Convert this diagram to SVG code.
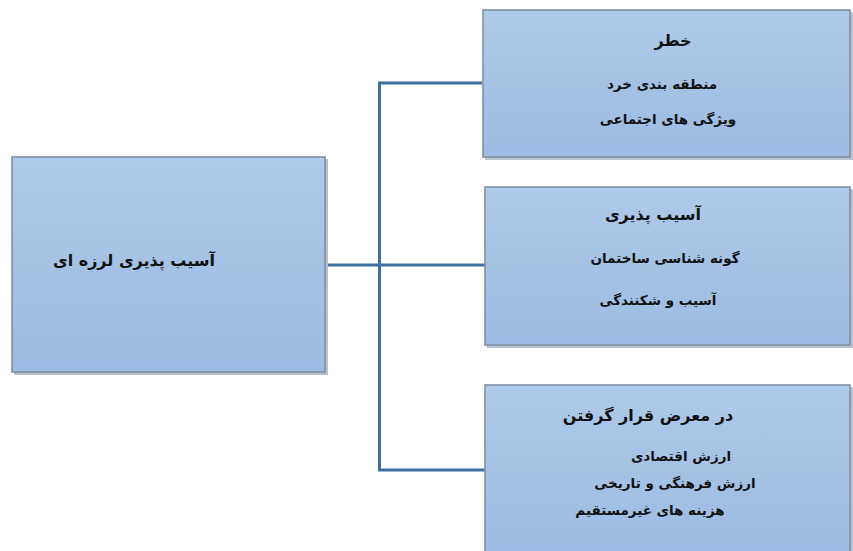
<svg xmlns="http://www.w3.org/2000/svg" width="853" height="551" viewBox="0 0 853 551">
<defs>
<linearGradient id="g" x1="0" y1="0" x2="0" y2="1">
<stop offset="0" stop-color="#afcaea"/>
<stop offset="0.5" stop-color="#a5c2e5"/>
<stop offset="1" stop-color="#9dbce3"/>
</linearGradient>
</defs>
<style>
.box{fill:url(#g);stroke:#8090a2;stroke-width:1.6}
.sh{fill:#b8c2cc}
.c{fill:none;stroke:#3f6f9f;stroke-width:3}
text{font-family:"DejaVu Sans",sans-serif;fill:#111;text-anchor:middle;direction:rtl;unicode-bidi:embed}
.h{font-weight:bold;font-size:16px}
.t{font-weight:bold;font-size:13.5px}
</style>
<rect width="853" height="551" fill="#fff"/>
<g id="connectors">
<path class="c" d="M325 265 H485"/>
<path class="c" d="M482 83 H379.5 V470 H485"/>
</g>
<g id="n0">
<rect class="sh" x="14" y="159" width="314" height="216"/>
<rect class="box" x="12" y="157" width="313" height="215"/>
<text class="h" x="134" y="266">آسیب پذیری لرزه ای</text>
</g>
<g id="n1">
<rect class="sh" x="485" y="12" width="368" height="148"/>
<rect class="box" x="483" y="10" width="367" height="147"/>
<text class="h" x="673" y="46">خطر</text>
<text class="t" x="662" y="89">منطقه بندی خرد</text>
<text class="t" x="668" y="124">ویژگی های اجتماعی</text>
</g>
<g id="n2">
<rect class="sh" x="487" y="189" width="366" height="159"/>
<rect class="box" x="485" y="187" width="365" height="158"/>
<text class="h" x="653" y="220">آسیب پذیری</text>
<text class="t" x="665" y="263">گونه شناسی ساختمان</text>
<text class="t" x="658" y="305">آسیب و شکنندگی</text>
</g>
<g id="n3">
<rect class="sh" x="487" y="387" width="366" height="170"/>
<rect class="box" x="485" y="385" width="365" height="170"/>
<text class="h" x="648" y="421">در معرض قرار گرفتن</text>
<text class="t" x="681" y="461">ارزش اقتصادی</text>
<text class="t" x="675" y="488">ارزش فرهنگی و تاریخی</text>
<text class="t" x="650" y="515">هزینه های غیرمستقیم</text>
</g>
</svg>
